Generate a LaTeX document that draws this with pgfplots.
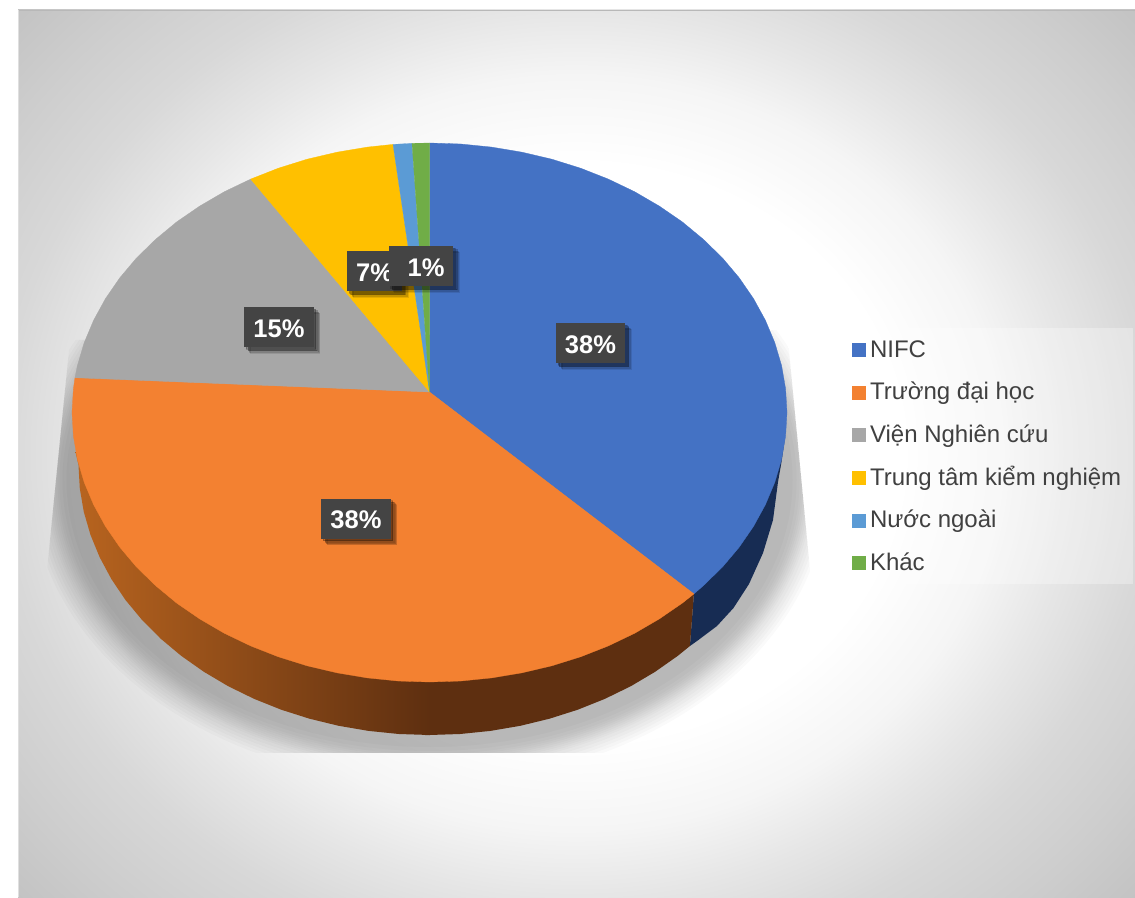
\documentclass[border=0pt]{standalone}
\usepackage{pgfplots}
\pgfplotsset{compat=1.18}
\usepackage{fontspec}
\setmainfont{Liberation Sans}
\usetikzlibrary{shadows}
\definecolor{cBlue}{HTML}{4472C4}
\definecolor{cOrange}{HTML}{F38131}
\definecolor{cGray}{HTML}{A7A7A7}
\definecolor{cYellow}{HTML}{FFC000}
\definecolor{cLBlue}{HTML}{5B9BD5}
\definecolor{cGreen}{HTML}{70AD47}
\definecolor{cNavy}{HTML}{172C53}
\definecolor{cBrown}{HTML}{5E2F10}
\definecolor{cBrownL}{HTML}{B8641F}
\definecolor{cBox}{HTML}{444444}
\definecolor{cText}{HTML}{404040}
\definecolor{g1}{HTML}{F5F5F5}
\definecolor{g2}{HTML}{E6E6E6}
\definecolor{g3}{HTML}{D8D8D8}
\definecolor{g4}{HTML}{CDCDCD}
\definecolor{g5}{HTML}{C0C0C0}
\pgfdeclareradialshading{bgshade}{\pgfpointorigin}{%
 color(0bp)=(white); color(10.2bp)=(white); color(13.3bp)=(g1);
 color(15.6bp)=(g2); color(18bp)=(g3);
 color(21bp)=(g4); color(24.2bp)=(g5); color(50bp)=(g5)}
\begin{document}
\begin{tikzpicture}
\begin{scope}[x=1pt,y=-1pt,yshift=897pt]
 \fill[white] (0,0) rectangle (1135,897);
 \begin{scope}
  \clip (18,10) rectangle (1135,897);
  \shade[shading=bgshade] (576,453) ellipse (800pt and 709pt);
  \draw[black!28,line width=1pt] (18,10.5) -- (1135,10.5);
  \draw[white!75!gray,line width=1pt] (18.5,10) -- (18.5,897);
 \end{scope}
 \begin{scope}
  \clip (70,340) -- (47,570) -- (47,753) -- (812,753) -- (810,570) -- (787,330) -- cycle;
  \foreach \r in {48,45,42,39,36,33,31,29,27,25,23,21,19,16,12}{
   \fill[black,opacity=.018] (429.5,480) ellipse ({(351+\r)*1pt} and {(255+\r)*1pt});
  }
 \end{scope}
 \fill[white,opacity=.3] (840,328) rectangle (1133,584);
\end{scope}
\begin{axis}[
  at={(0,0)},anchor=south west,
  x=1pt,y=1pt,
  xmin=0,xmax=1135,ymin=0,ymax=897,
  y dir=reverse,
  hide axis,
  clip=false,
  legend image code/.code={\fill[#1] (0pt,-5pt) rectangle (13pt,8pt); \path (17.5pt,0pt);},
  legend cell align=left,
  legend style={
    at={(axis cs:840,329.5)},anchor=north west,
    fill=none,draw=none,
    font=\fontsize{24}{26}\selectfont,
    text=cText,
    inner xsep=12pt,inner ysep=9.5pt,
    row sep=18.6pt,
    nodes={inner xsep=0pt,inner ysep=0pt,text height=18pt,text depth=6pt},
  },
  legend columns=1,
]
% sides of the disc
\addplot[forget plot,fill=cNavy,draw=none,mark=none] coordinates {
(784.5,441)(781.5,462)(778,482)(773,520)(763,553)(749,584)(733.5,608)(717,626)(698.4,640)(689.9,646)
(693.9,593.9)(600,450)} -- cycle;
\addplot[forget plot,fill=cBrown,draw=none,mark=none] coordinates {
(689.9,646)(677.7,655.9)(655.1,671.8)(630.8,686.2)(605,698.8)(577.8,709.7)(549.5,718.7)(520.3,725.8)
(490.4,730.9)(460.1,734)(429.5,735)(425,735)(425,500)(693.9,593.9)} -- cycle;
\addplot[forget plot,left color=cBrownL,right color=cBrown,draw=none,mark=none] coordinates {
(430,735)(398.9,734)(368.6,730.9)(338.7,725.8)(309.5,718.7)(281.2,709.7)(254,698.8)(228.2,686.2)
(203.9,671.8)(181.3,655.9)(160.6,638.6)(142,619.9)(125.5,600)(111.4,579.1)(99.7,557.3)(90.5,534.9)
(83.8,511.9)(79.8,488.5)(78.5,465)(75.5,452)(300,452)(430,452)} -- cycle;
% top surface: NIFC 38
\addplot[fill=cBlue,draw=cBlue,line width=.3pt,mark=none] coordinates {
(429.5,392)(429.5,143)(460.7,144)(491.6,147.1)(522,152.2)(551.8,159.2)(580.6,168.2)(608.3,179.1)
(634.6,191.7)(659.3,206.1)(682.3,221.9)(703.3,239.3)(722.4,257.9)(739.1,277.7)(753.5,298.6)(765.4,320.3)
(774.8,342.7)(781.6,365.7)(785.6,389)(787,412.5)(785.6,436)(781.6,459.3)(774.8,482.3)(765.4,504.7)
(753.5,526.4)(739.1,547.3)(722.4,567.1)(703.3,585.7)(693.9,593.9)} -- cycle;
\addlegendentry{NIFC}
% Truong dai hoc 38
\addplot[fill=cOrange,draw=cOrange,line width=.3pt,mark=none] coordinates {
(429.5,392)(693.9,593.9)(682.3,603.1)(659.3,618.9)(634.6,633.3)(608.3,645.9)(580.6,656.8)(551.8,665.8)
(522,672.8)(491.6,677.9)(460.7,681)(429.5,682)(398.3,681)(367.4,677.9)(337,672.8)(307.2,665.8)
(278.4,656.8)(250.7,645.9)(224.4,633.3)(199.7,618.9)(176.7,603.1)(155.7,585.7)(136.6,567.1)(119.9,547.3)
(105.5,526.4)(93.6,504.7)(84.2,482.3)(77.4,459.3)(73.4,436)(72,412.5)(73.4,389)(75,377.7)} -- cycle;
\addlegendentry{Trường đại học}
% Vien Nghien cuu 15
\addplot[fill=cGray,draw=cGray,line width=.3pt,mark=none] coordinates {
(429.5,392)(75,377.7)(77.4,365.7)(84.2,342.7)(93.6,320.3)(105.5,298.6)(119.9,277.7)(136.6,257.9)
(155.7,239.3)(176.7,221.9)(199.7,206.1)(224.4,191.7)(250.7,179.1)} -- cycle;
\addlegendentry{Viện Nghiên cứu}
% Trung tam kiem nghiem 7
\addplot[fill=cYellow,draw=cYellow,line width=.3pt,mark=none] coordinates {
(429.5,392)(250.7,179.1)(278.4,168.2)(307.2,159.2)(337,152.2)(367.4,147.1)(393,144.4)} -- cycle;
\addlegendentry{Trung tâm kiểm nghiệm}
% Nuoc ngoai 1
\addplot[fill=cLBlue,draw=cLBlue,line width=.2pt,mark=none] coordinates {
(429.5,392)(393,144.4)(412,143.3)} -- cycle;
\addlegendentry{Nước ngoài}
% Khac 1
\addplot[fill=cGreen,draw=cGreen,line width=.2pt,mark=none] coordinates {
(429.5,392)(412,143.3)(429.5,143)} -- cycle;
\addlegendentry{Khác}
% data labels
\addplot[forget plot,only marks,mark=none,
  point meta=explicit symbolic,
  nodes near coords,
  every node near coord/.append style={
    anchor=center,font=\fontsize{25.5}{30}\bfseries,text=white,
    inner xsep=9pt,inner ysep=0pt,text height=20pt,text depth=0pt,minimum height=40pt,
    draw=none,fill=cBox,
    general shadow={shadow xshift=6pt,shadow yshift=-6pt,opacity=.1,fill=black},
    general shadow={shadow xshift=5pt,shadow yshift=-5pt,opacity=.14,fill=black},
    general shadow={shadow xshift=3.5pt,shadow yshift=-3.5pt,opacity=.22,fill=black},
    general shadow={shadow xshift=2pt,shadow yshift=-2pt,opacity=.2,fill=black},
  }] coordinates {
 (590.5,343)[38\%]
 (356,518.5)[38\%]
 (279,327)[15\%]
 (374.5,271)[7\%]
 (421,266)[\hspace*{10pt}1\%]
};
\end{axis}
\end{tikzpicture}
\end{document}
